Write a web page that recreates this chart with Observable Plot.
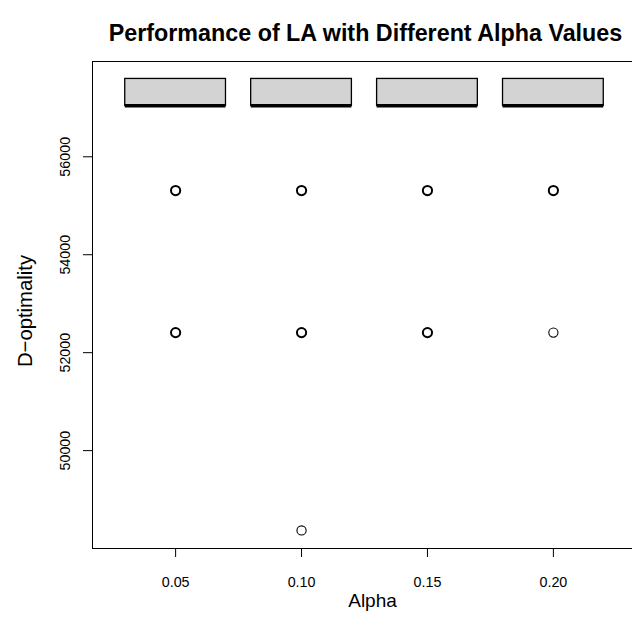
<!DOCTYPE html>
<html>
<head>
<meta charset="utf-8">
<script src="https://cdn.jsdelivr.net/npm/d3@7"></script>
<script src="https://cdn.jsdelivr.net/npm/@observablehq/plot@0.6"></script>
<style>
  html, body { margin: 0; padding: 0; background: #fff; overflow: hidden; }
  #chart svg { display: block; }
</style>
</head>
<body>
<div id="chart"></div>
<script>
// ---- data ----
const alphas = [0.05, 0.10, 0.15, 0.20];
const alphaLabels = ["0.05", "0.10", "0.15", "0.20"];
const q1 = [57040, 57040, 57040, 57040];
const medians = [57040, 57040, 57040, 57040];
const q3 = [57590, 57590, 57590, 57590];
// outliers (repeated values are overplotted in the reference, which makes those circles look bold)
const outlierAlpha = [0.05, 0.05, 0.05, 0.05, 0.10, 0.10, 0.10, 0.10, 0.10, 0.15, 0.15, 0.15, 0.15, 0.20, 0.20, 0.20];
const outlierValue = [55310, 55310, 52410, 52410, 55310, 55310, 52410, 52410, 48370, 55310, 55310, 52410, 52410, 55310, 55310, 52410];
const yTicks = [50000, 52000, 54000, 56000];
const titleText = "Performance of LA with Different Alpha Values";
const xLabel = "Alpha";
const yLabel = "D\u2212optimality";

// ---- tables ----
const boxes = alphas.map((a, i) => ({alpha: a, q1: q1[i], median: medians[i], q3: q3[i]}));
const outlierGroups = d3.rollups(
  outlierAlpha.map((a, i) => ({alpha: a, value: outlierValue[i]})),
  v => v.length, d => d.alpha, d => d.value
);
const outliers = outlierGroups.flatMap(([alpha, vals]) => vals.map(([value, n]) => ({alpha, value, n})));
const xTickData = alphas.map((a, i) => ({alpha: a, label: alphaLabels[i]}));

const FONT = "'Liberation Sans', Arial, Helvetica, sans-serif";
const halfBox = 0.02;

const chart = Plot.plot({
  width: 632,
  height: 625,
  marginLeft: 92,
  marginRight: -4,
  marginTop: 61,
  marginBottom: 77,
  style: {fontFamily: FONT, background: "#fff", color: "#000"},
  x: {type: "linear", domain: [0.017, 0.233], axis: null},
  y: {type: "linear", domain: [48001, 57946], axis: null},
  marks: [
    // boxes
    Plot.rect(boxes, {
      x1: d => d.alpha - halfBox, x2: d => d.alpha + halfBox,
      y1: "q1", y2: "q3",
      fill: "#d3d3d3", stroke: "#000", strokeWidth: 1.3
    }),
    // medians
    Plot.ruleY(boxes, {
      x1: d => d.alpha - halfBox, x2: d => d.alpha + halfBox,
      y: "median", stroke: "#000", strokeWidth: 3.5
    }),
    // outliers (overplotted points drawn bolder)
    Plot.dot(outliers, {
      x: "alpha", y: "value", r: 4.6, stroke: "#000", fill: "none",
      strokeWidth: d => (d.n > 1 ? 2 : 1.1)
    }),
    // frame
    Plot.frame({stroke: "#000", strokeWidth: 1}),
    // y ticks
    Plot.axisY({anchor: "left", ticks: yTicks, tickSize: 9, tickFormat: () => "", label: null, stroke: "#000"}),
    // y tick labels
    Plot.text(yTicks, {
      y: d => d, text: d => String(d), frameAnchor: "left", dx: -27,
      rotate: -90, textAnchor: "middle", lineAnchor: "middle",
      fontSize: 14.3, fill: "#000"
    }),
    // x ticks
    Plot.axisX({anchor: "bottom", ticks: alphas, tickSize: 9, tickFormat: () => "", label: null, stroke: "#000"}),
    // x tick labels
    Plot.text(xTickData, {
      x: "alpha", text: "label", frameAnchor: "bottom", dy: 34,
      textAnchor: "middle", lineAnchor: "middle", fontSize: 14.3, fill: "#000"
    }),
    // x label
    Plot.text([xLabel], {
      text: d => d, frameAnchor: "bottom", dx: 8, dy: 52,
      lineAnchor: "middle", fontSize: 19, fill: "#000"
    }),
    // y label
    Plot.text([yLabel], {
      text: d => d, frameAnchor: "left", dx: -67, dy: 6,
      rotate: -90, textAnchor: "middle", lineAnchor: "middle",
      fontSize: 20.3, fill: "#000"
    }),
    // title
    Plot.text([titleText], {
      text: d => d, frameAnchor: "top", dx: 1, dy: -28,
      lineAnchor: "middle", fontSize: 23.3, fontWeight: "bold", fill: "#000"
    })
  ]
});
document.getElementById("chart").appendChild(chart);
</script>
</body>
</html>
